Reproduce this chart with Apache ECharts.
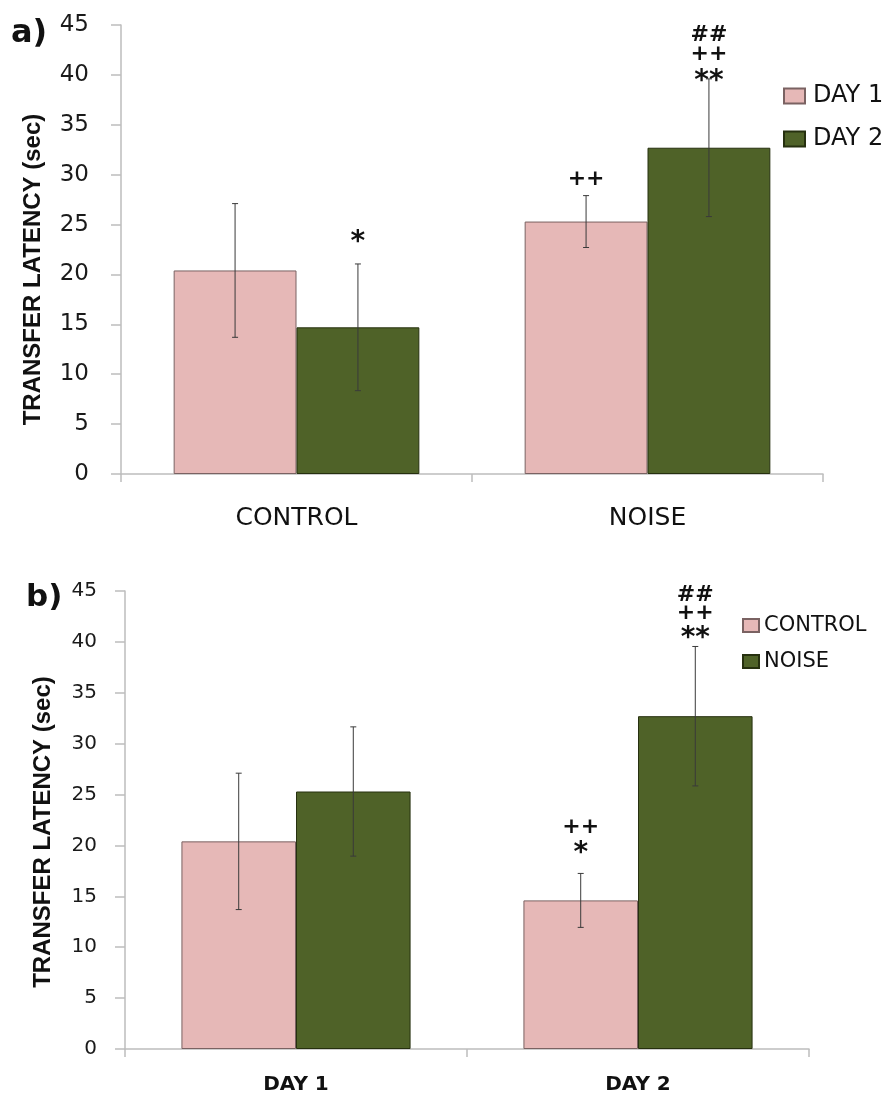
<!DOCTYPE html>
<html>
<head>
<meta charset="utf-8">
<script src="https://cdn.jsdelivr.net/npm/echarts@6/dist/echarts.min.js"></script>
<style>
  html, body { margin: 0; padding: 0; background: #fff; }
  #main { width: 887px; height: 1095px; }
</style>
</head>
<body>
<div id="main"></div>
<script>
// ---- panel a) ----
var catsA = ['CONTROL', 'NOISE'];
var day1Mean = [20.4, 25.3];
var day1Sd = [6.7, 2.6];
var day2Mean = [14.7, 32.7];
var day2Sd = [6.35, 6.9];
// significance marks: category, bar (-1 left / 1 right), level on y scale, text
var marksACat = [0, 1, 1, 1, 1];
var marksASide = [1, -1, 1, 1, 1];
var marksALevel = [23.75, 29.5, 39.9, 42.1, 44.0];
var marksAText = ['*', '++', '**', '++', '##'];

// ---- panel b) ----
var catsB = ['DAY 1', 'DAY 2'];
var controlMean = [20.4, 14.6];
var controlSd = [6.7, 2.65];
var noiseMean = [25.3, 32.7];
var noiseSd = [6.35, 6.85];
var marksBCat = [1, 1, 1, 1, 1];
var marksBSide = [-1, -1, 1, 1, 1];
var marksBLevel = [19.75, 21.8, 40.95, 42.8, 44.6];
var marksBText = ['*', '++', '**', '++', '##'];

var yTicks = [0, 45, 5];

var PINK = '#e6b8b7';
var GREEN = '#4f6228';
var FONT = 'DejaVu Sans';

var chart = echarts.init(document.getElementById('main'));

function barWidthFrac(gap) { return (1 - gap) / 2; }

function errSeries(means, sds, side, idx, gap) {
  return {
    type: 'custom', xAxisIndex: idx, yAxisIndex: idx, z: 5, silent: true,
    data: means.map(function (m, i) { return [i, m, sds[i]]; }),
    renderItem: function (params, api) {
      var band = api.size([1, 0])[0];
      var bw = band * barWidthFrac(gap);
      var cx = api.coord([api.value(0), 0])[0] + side * bw / 2;
      var yTop = api.coord([api.value(0), api.value(1) + api.value(2)])[1];
      var yBot = api.coord([api.value(0), api.value(1) - api.value(2)])[1];
      var st = { stroke: '#3a3a3a', lineWidth: 1 };
      return {
        type: 'group', children: [
          { type: 'line', shape: { x1: cx, y1: yTop, x2: cx, y2: yBot }, style: st },
          { type: 'line', shape: { x1: cx - 3, y1: yTop, x2: cx + 3, y2: yTop }, style: st },
          { type: 'line', shape: { x1: cx - 3, y1: yBot, x2: cx + 3, y2: yBot }, style: st }
        ]
      };
    }
  };
}

function markSeries(cats, sides, levels, texts, idx, gap) {
  return {
    type: 'custom', xAxisIndex: idx, yAxisIndex: idx, z: 6, silent: true,
    data: cats.map(function (c, i) { return [c, levels[i]]; }),
    renderItem: function (params, api) {
      var i = params.dataIndex;
      var band = api.size([1, 0])[0];
      var bw = band * barWidthFrac(gap);
      var p = api.coord([api.value(0), api.value(1)]);
      var isStar = texts[i].indexOf('*') >= 0;
      return {
        type: 'text',
        x: p[0] + sides[i] * bw / 2,
        y: p[1] + (isStar ? 6 : 0),
        style: {
          text: texts[i], fill: '#111',
          font: 'bold ' + (isStar ? 28 : 22) + 'px ' + FONT,
          align: 'center', verticalAlign: 'middle'
        }
      };
    }
  };
}

function yAxisCfg(idx, fs, margin, gapName, shift) {
  return {
    type: 'value', gridIndex: idx, min: yTicks[0], max: yTicks[1], interval: yTicks[2],
    name: 'TRANSFER LATENCY (sec)', nameLocation: 'middle', nameGap: gapName,
    nameTextStyle: { fontFamily: 'Liberation Sans', fontWeight: 'bold', fontSize: 24, color: '#111', padding: [0, shift, 0, 0] },
    axisLine: { show: true, lineStyle: { color: '#bdbdbd', width: 1.5 } },
    axisTick: { show: true, length: 10, lineStyle: { color: '#bdbdbd', width: 1.5 } },
    axisLabel: { fontFamily: FONT, fontSize: fs, color: '#1a1a1a', margin: margin },
    splitLine: { show: false }
  };
}

function xAxisCfg(idx, cats, fs, weight, margin) {
  return {
    type: 'category', gridIndex: idx, data: cats,
    axisLine: { lineStyle: { color: '#bdbdbd', width: 1.5 } },
    axisTick: { show: true, length: 8, lineStyle: { color: '#bdbdbd', width: 1.5 } },
    axisLabel: { fontFamily: FONT, fontSize: fs, fontWeight: weight, color: '#111', margin: margin }
  };
}

var gapA = 0.30, gapB = 0.33;

var option = {
  backgroundColor: '#fff',
  animation: false,
  graphic: [
    { type: 'text', left: 11, top: 18, style: { text: 'a)', font: 'bold 32px ' + FONT, fill: '#111' } },
    { type: 'text', left: 26, top: 582, style: { text: 'b)', font: 'bold 31px ' + FONT, fill: '#111' } }
  ],
  grid: [
    { left: 121, top: 25, width: 702, height: 449 },
    { left: 125, top: 591, width: 684, height: 458 }
  ],
  legend: [
    {
      data: ['DAY 1', 'DAY 2'], orient: 'vertical', left: 778, top: 79, itemWidth: 21, itemHeight: 15,
      icon: 'rect', itemGap: 19, textStyle: { fontFamily: FONT, fontSize: 24, color: '#111', padding: [0, 0, 0, 3] }
    },
    {
      data: ['CONTROL', 'NOISE'], orient: 'vertical', left: 737, top: 610, itemWidth: 16, itemHeight: 13,
      icon: 'rect', itemGap: 15, textStyle: { fontFamily: FONT, fontSize: 21, color: '#111', padding: [0, 0, 0, 0] }
    }
  ],
  xAxis: [
    xAxisCfg(0, catsA, 25, 'normal', 32),
    xAxisCfg(1, catsB, 20, 'bold', 26)
  ],
  yAxis: [
    yAxisCfg(0, 23, 32, 76, 40),
    yAxisCfg(1, 20, 28, 70, 24)
  ],
  series: [
    { name: 'DAY 1', type: 'bar', xAxisIndex: 0, yAxisIndex: 0, data: day1Mean, barGap: 0, barCategoryGap: '30%',
      itemStyle: { color: PINK, borderColor: '#7a6262', borderWidth: 1 } },
    { name: 'DAY 2', type: 'bar', xAxisIndex: 0, yAxisIndex: 0, data: day2Mean, barGap: 0, barCategoryGap: '30%',
      itemStyle: { color: GREEN, borderColor: '#26300f', borderWidth: 1 } },
    { name: 'CONTROL', type: 'bar', xAxisIndex: 1, yAxisIndex: 1, data: controlMean, barGap: 0, barCategoryGap: '33%',
      itemStyle: { color: PINK, borderColor: '#7a6262', borderWidth: 1 } },
    { name: 'NOISE', type: 'bar', xAxisIndex: 1, yAxisIndex: 1, data: noiseMean, barGap: 0, barCategoryGap: '33%',
      itemStyle: { color: GREEN, borderColor: '#26300f', borderWidth: 1 } },
    errSeries(day1Mean, day1Sd, -1, 0, gapA),
    errSeries(day2Mean, day2Sd, 1, 0, gapA),
    errSeries(controlMean, controlSd, -1, 1, gapB),
    errSeries(noiseMean, noiseSd, 1, 1, gapB),
    markSeries(marksACat, marksASide, marksALevel, marksAText, 0, gapA),
    markSeries(marksBCat, marksBSide, marksBLevel, marksBText, 1, gapB)
  ]
};

chart.setOption(option);
</script>
</body>
</html>
